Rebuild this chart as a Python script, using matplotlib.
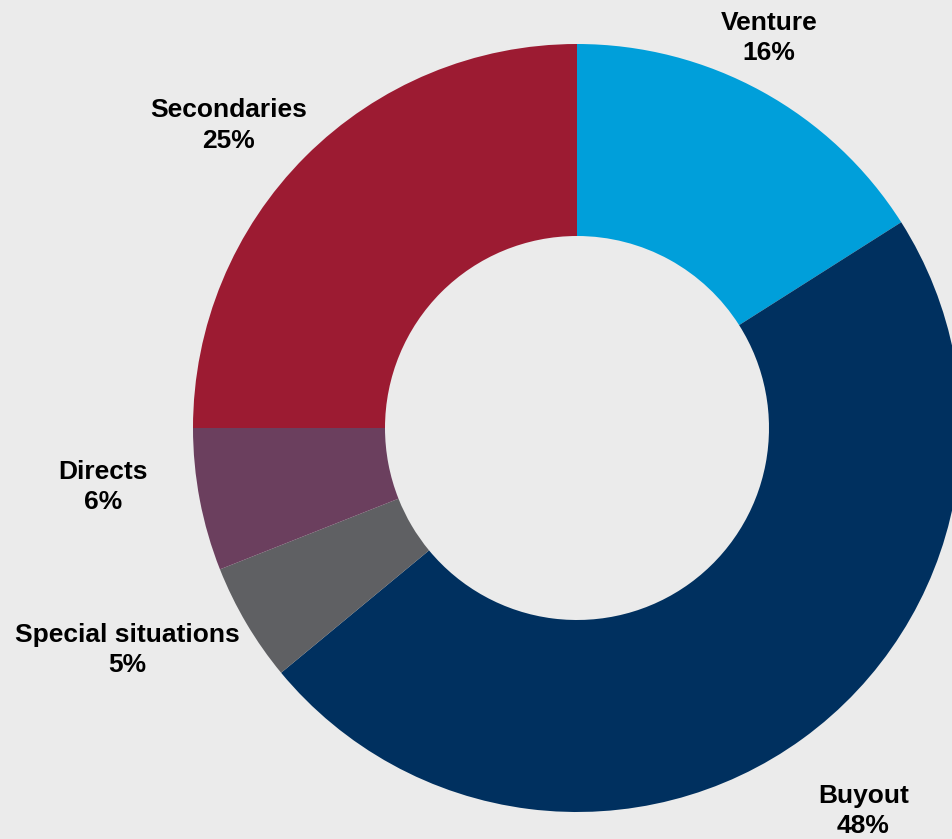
import matplotlib
matplotlib.use("Agg")
import matplotlib.pyplot as plt

# Portfolio allocation by strategy (percent), clockwise from 12 o'clock
categories = ["Venture", "Buyout", "Special situations", "Directs", "Secondaries"]
shares = [16, 48, 5, 6, 25]
colors = ["#009FDA", "#00305F", "#5F6063", "#6B3F5E", "#9C1B32"]

# Label anchor points in data units (donut centred at 0,0, outer radius 1)
label_xy = {
    "Venture": (0.500, 1.015),
    "Buyout": (0.746, -0.998),
    "Special situations": (-1.171, -0.578),
    "Directs": (-1.234, -0.154),
    "Secondaries": (-0.908, 0.788),
}

bg = "#EBEBEB"
W, H, DPI = 953, 839, 100
fig = plt.figure(figsize=(W / DPI, H / DPI), dpi=DPI, facecolor=bg)
ax = fig.add_axes([0, 0, 1, 1])
ax.set_facecolor(bg)

ax.pie(shares, colors=colors, startangle=90, counterclock=False,
       radius=1.0, wedgeprops=dict(width=0.5, linewidth=0))

# Centre the donut at pixel (577, 428) with an outer radius of 384 px
cx, cy, r = 577, 428, 384
ax.set_xlim(-cx / r, (W - cx) / r)
ax.set_ylim(-(H - cy) / r, cy / r)
ax.axis("off")

for name, val in zip(categories, shares):
    x, y = label_xy[name]
    ax.text(x, y, f"{name}\n{val}%", ha="center", va="center",
            fontsize=19, fontweight="bold", family="Liberation Sans",
            color="#000000", linespacing=1.34)

fig.savefig("out.png", dpi=DPI, facecolor=bg)
